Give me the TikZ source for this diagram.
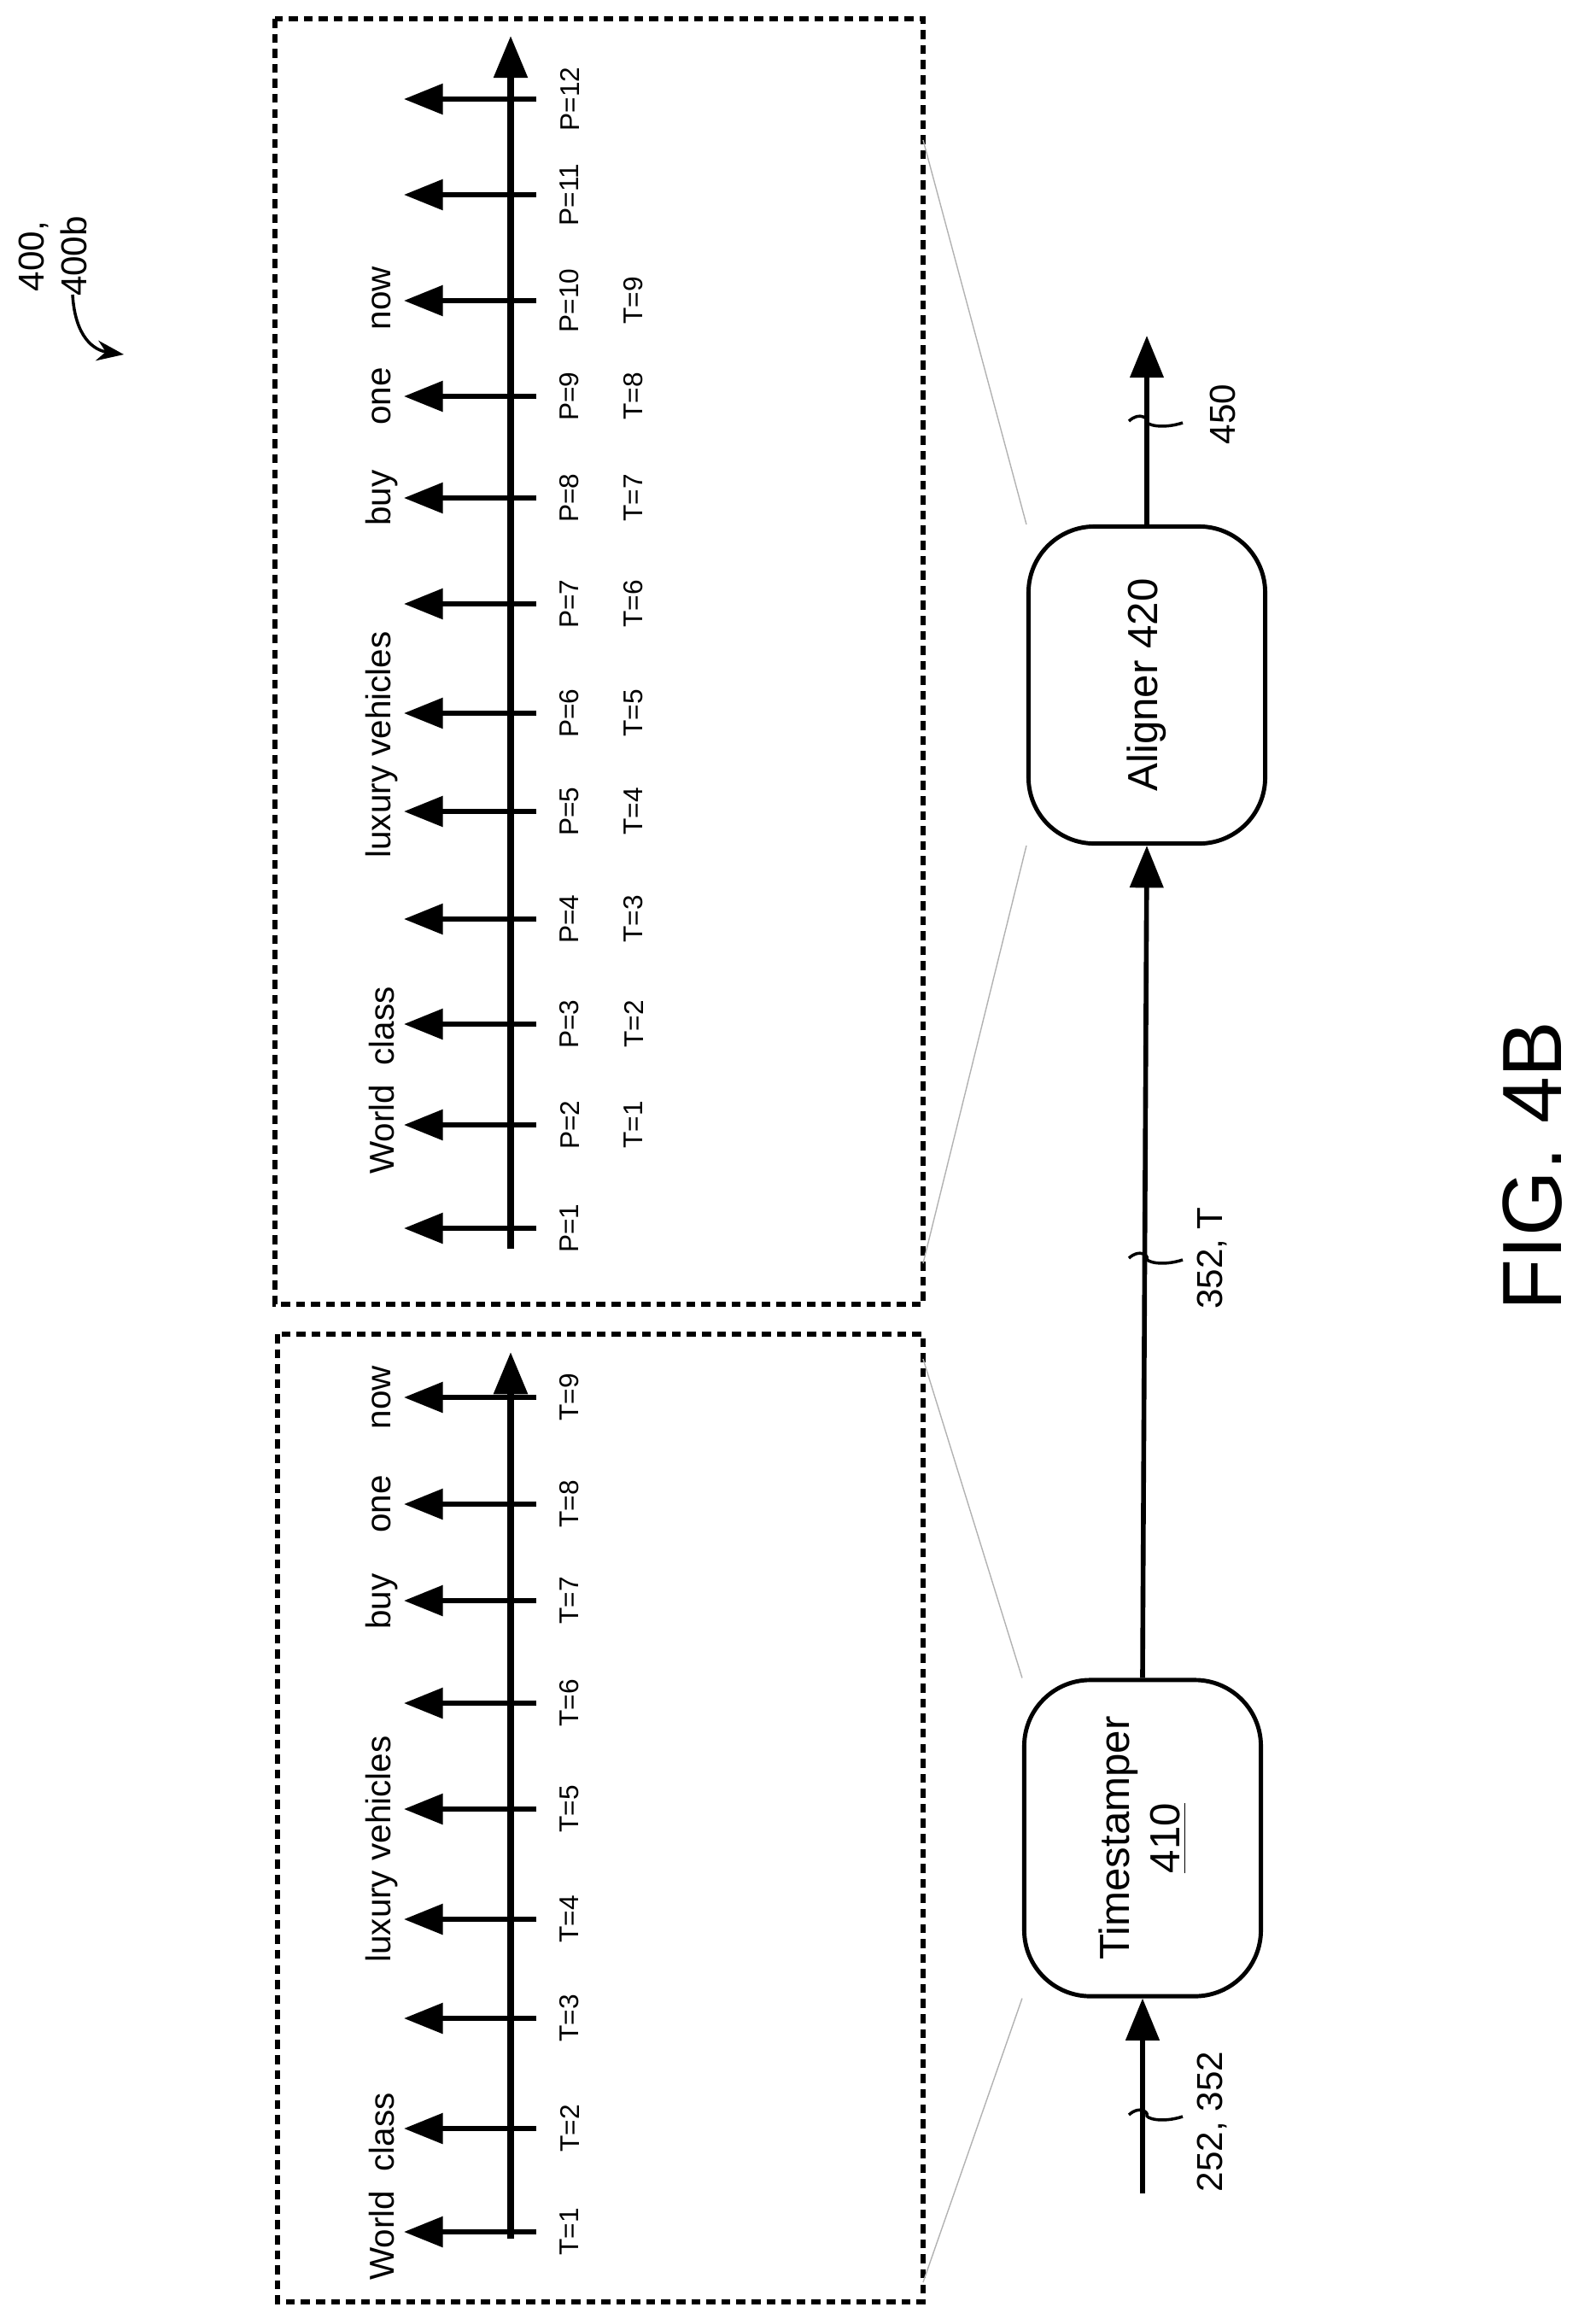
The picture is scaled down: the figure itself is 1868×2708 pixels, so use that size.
\documentclass[tikz,border=0pt]{standalone}
\usepackage{fontspec}
\setmainfont{Liberation Sans}
\usetikzlibrary{arrows.meta}
\begin{document}
\begin{tikzpicture}[x=0.01cm,y=-0.01cm,
  frame/.style={draw,densely dashed,line width=1.6pt},
  axis/.style={line width=2pt,-{Triangle[length=14pt,width=11pt]}},
  tick/.style={line width=1.6pt,-{Triangle[length=13pt,width=10pt]}},
  word/.style={rotate=90,font=\fontsize{11.5}{13}\selectfont},
  lab/.style={rotate=90,font=\fontsize{9}{11}\selectfont},
  blk/.style={draw,line width=1.4pt,rounded corners=22pt,font=\fontsize{14}{17}\selectfont,align=center},
  flow/.style={line width=1.6pt,-{Triangle[length=14pt,width=11pt]}},
  zoomline/.style={draw=gray!60,line width=0.4pt}]
\useasboundingbox (0,0) rectangle (1868,2708);
% frames
\draw[frame] (322,22) rectangle (1081,1527);
\draw[frame] (325,1562) rectangle (1081,2695);
% top timeline
\coordinate (ta) at (598,1462); \coordinate (tb) at (598,42);
\draw[axis] (ta) -- (tb);
\foreach \y [count=\i] in {1438,1317,1199,1076,950,835,707,583,464,352,228,116}{
  \coordinate (p\i) at (628,\y); \coordinate (q\i) at (473,\y);
  \draw[tick] (p\i) -- (q\i);
  \node[lab] (pl\i) at (667,\y) {P=\i};
}
\foreach \y [count=\i] in {1317,1199,1076,950,835,707,583,464,352}{
  \node[lab] (tl\i) at (742,\y) {T=\i};
}
\node[word] (w1) at (447,1265) {World\ \ class};
\node[word] (w2) at (447,872) {luxury vehicles};
\node[word] (w3) at (447,583) {buy};
\node[word] (w4) at (447,464) {one};
\node[word] (w5) at (447,349) {now};
% bottom timeline
\coordinate (ba) at (598,2621); \coordinate (bb) at (598,1583);
\draw[axis] (ba) -- (bb);
\foreach \y [count=\i] in {2613,2492,2363,2247,2118,1994,1874,1761,1636}{
  \coordinate (r\i) at (628,\y); \coordinate (s\i) at (473,\y);
  \draw[tick] (r\i) -- (s\i);
  \node[lab] (bl\i) at (667,\y) {T=\i};
}
\node[word] (v1) at (447,2560) {World\ \ class};
\node[word] (v2) at (447,2165) {luxury vehicles};
\node[word] (v3) at (447,1875) {buy};
\node[word] (v4) at (447,1761) {one};
\node[word] (v5) at (447,1636) {now};
% blocks
\node[blk,rotate=90,minimum width=3.70cm,minimum height=2.77cm] (ts) at (1338,2152) {Timestamper\\\underline{410}};
\node[blk,rotate=90,minimum width=3.71cm,minimum height=2.77cm] (al) at (1343,802) {Aligner 420};
\coordinate (in) at (1338,2568);
\coordinate (out) at (1343,393);
\draw[flow] (in) -- (ts.west);
\draw[flow] (ts.east) -- (al.west);
\draw[flow] (al.east) -- (out);
% squiggles
\foreach \y in {2476,1473,493}{
  \draw[line width=1pt] (1322,\y) .. controls (1335,\y-12) and (1345,\y-2) .. (1343,\y) .. controls (1341,\y+4) and (1360,\y+10) .. (1385,\y+2);
}
\node[rotate=90,font=\fontsize{12}{14}\selectfont] (l1) at (1419,2484) {252, 352};
\node[rotate=90,font=\fontsize{12}{14}\selectfont] (l2) at (1419,1473) {352, T};
\node[rotate=90,font=\fontsize{12}{14}\selectfont] (l3) at (1432,485) {450};
% zoom lines
\coordinate (z1) at (1081,164); \coordinate (z2) at (1081,1479);
\coordinate (z3) at (1081,1591); \coordinate (z4) at (1081,2672);
\draw[zoomline] (z1) -- (al.north east);
\draw[zoomline] (z2) -- (al.north west);
\draw[zoomline] (z3) -- (ts.north east);
\draw[zoomline] (z4) -- (ts.north west);
% ref label
\node[rotate=90,align=center,font=\fontsize{12}{14}\selectfont] (ref) at (62,300) {400,\\400b};
\coordinate (rc) at (145,415);
\draw[line width=1pt,-{Stealth[length=9pt]}] (85,345) .. controls (88,395) and (110,410) .. (rc);
\node[rotate=90,font=\fontsize{28}{32}\selectfont] (fig) at (1795,1365) {FIG. 4B};
\end{tikzpicture}
\end{document}
